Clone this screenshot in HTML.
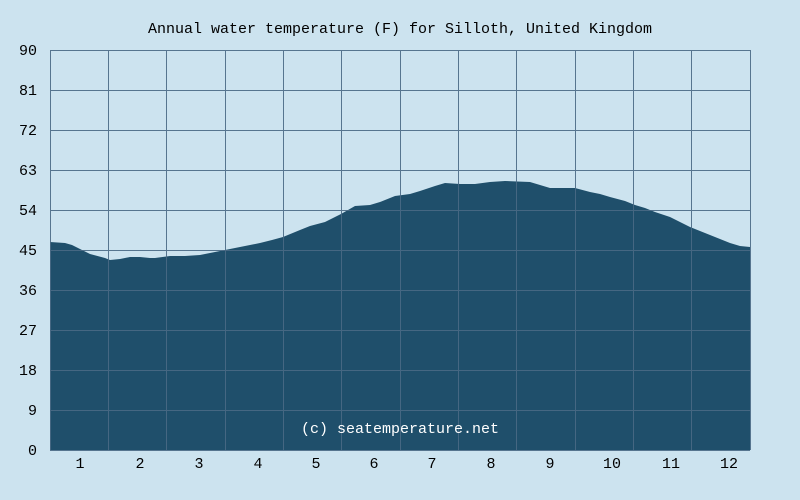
<!DOCTYPE html>
<html><head><style>body{margin:0;background:#cce3ef}</style></head><body>
<svg width="800" height="500" xmlns="http://www.w3.org/2000/svg" style="display:block;font-family:'Liberation Mono',monospace">
<rect width="800" height="500" fill="#cce3ef"/>
<text x="400" y="33" font-size="15" text-anchor="middle" fill="#000">Annual water temperature (F) for Silloth, United Kingdom</text>
<path fill="#1f4f6b" d="M50,450 L50,242 L65,243 L72,245 L80,249 L90,254 L105,258 L110,260 L120,259 L130,257 L140,257 L150,258 L155,258 L170,256 L185,256 L200,255 L210,253 L225,250 L245,246 L260,243 L272,240 L283,237 L300,230 L310,226 L325,222 L341,214 L355,206 L370,205 L380,202 L395,196 L410,194 L420,191 L435,186 L445,183 L460,184 L475,184 L490,182 L505,181 L530,182 L540,185 L550,188 L575,188 L590,192 L600,194 L610,197 L625,201 L635,205 L645,208 L655,212 L670,217 L680,222 L690,227 L700,231 L715,237 L730,243 L740,246 L750,247 L750,450 Z"/>
<g stroke="#4a6a85" stroke-width="1" opacity="0.9">
<line x1="50" y1="50.5" x2="750" y2="50.5"/><line x1="50" y1="90.5" x2="750" y2="90.5"/><line x1="50" y1="130.5" x2="750" y2="130.5"/><line x1="50" y1="170.5" x2="750" y2="170.5"/><line x1="50" y1="210.5" x2="750" y2="210.5"/><line x1="50" y1="250.5" x2="750" y2="250.5"/><line x1="50" y1="290.5" x2="750" y2="290.5"/><line x1="50" y1="330.5" x2="750" y2="330.5"/><line x1="50" y1="370.5" x2="750" y2="370.5"/><line x1="50" y1="410.5" x2="750" y2="410.5"/><line x1="50" y1="450.5" x2="750" y2="450.5"/>
<line x1="50.5" y1="50" x2="50.5" y2="450"/><line x1="108.5" y1="50" x2="108.5" y2="450"/><line x1="166.5" y1="50" x2="166.5" y2="450"/><line x1="225.5" y1="50" x2="225.5" y2="450"/><line x1="283.5" y1="50" x2="283.5" y2="450"/><line x1="341.5" y1="50" x2="341.5" y2="450"/><line x1="400.5" y1="50" x2="400.5" y2="450"/><line x1="458.5" y1="50" x2="458.5" y2="450"/><line x1="516.5" y1="50" x2="516.5" y2="450"/><line x1="575.5" y1="50" x2="575.5" y2="450"/><line x1="633.5" y1="50" x2="633.5" y2="450"/><line x1="691.5" y1="50" x2="691.5" y2="450"/><line x1="750.5" y1="50" x2="750.5" y2="450"/>
</g>
<g font-size="15" fill="#000" text-anchor="end">
<text x="37" y="55">90</text><text x="37" y="95">81</text><text x="37" y="135">72</text><text x="37" y="175">63</text><text x="37" y="215">54</text><text x="37" y="255">45</text><text x="37" y="295">36</text><text x="37" y="335">27</text><text x="37" y="375">18</text><text x="37" y="415">9</text><text x="37" y="455">0</text>
</g>
<g font-size="15" fill="#000" text-anchor="middle">
<text x="80" y="468">1</text><text x="140" y="468">2</text><text x="199" y="468">3</text><text x="258" y="468">4</text><text x="316" y="468">5</text><text x="374" y="468">6</text><text x="432" y="468">7</text><text x="491" y="468">8</text><text x="550" y="468">9</text><text x="612" y="468">10</text><text x="671" y="468">11</text><text x="729" y="468">12</text>
</g>
<text x="400" y="433" font-size="15" fill="#ffffff" text-anchor="middle">(c) seatemperature.net</text>
</svg>
</body></html>
